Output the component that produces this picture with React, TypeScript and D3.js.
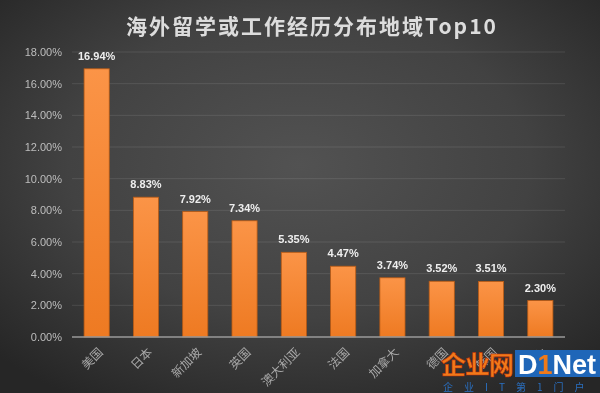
import React from "react";
import * as d3 from "d3";

const title = "海外留学或工作经历分布地域Top10";
const categories = ["美国", "日本", "新加坡", "英国", "澳大利亚", "法国", "加拿大", "德国", "韩国", "瑞士"];
const values = [16.94, 8.83, 7.92, 7.34, 5.35, 4.47, 3.74, 3.52, 3.51, 2.3];
const yTicks = [0, 2, 4, 6, 8, 10, 12, 14, 16, 18];

const W = 600;
const H = 393;
const M = { left: 72, right: 35, top: 52, bottom: 56 };

export default function App() {
  const x = d3
    .scaleBand<string>()
    .domain(categories)
    .range([M.left, W - M.right])
    .paddingInner(0.49)
    .paddingOuter(0.245);
  const y = d3.scaleLinear().domain([0, 18]).range([H - M.bottom, M.top]);
  const fmt = (v: number) => v.toFixed(2) + "%";
  const font = "'Liberation Sans', 'Noto Sans CJK SC', sans-serif";
  const cjk = "'Noto Sans CJK SC', 'Liberation Sans', sans-serif";

  return (
    <svg
      width={W}
      height={H}
      style={{ position: "fixed", left: 0, top: 0, display: "block" }}
    >
      <defs>
        <radialGradient id="bg" cx="50%" cy="42%" r="70%">
          <stop offset="0%" stopColor="#525252" />
          <stop offset="55%" stopColor="#424242" />
          <stop offset="100%" stopColor="#262626" />
        </radialGradient>
        <linearGradient id="bar" x1="0" y1="0" x2="0" y2="1">
          <stop offset="0%" stopColor="#fb9447" />
          <stop offset="100%" stopColor="#ee7a22" />
        </linearGradient>
      </defs>
      <rect x={0} y={0} width={W} height={H} fill="url(#bg)" />

      <text
        x={312}
        y={34}
        textAnchor="middle"
        fill="#dcdcdc"
        fontFamily={cjk}
        fontWeight="bold"
        fontSize={21}
        letterSpacing={2}
      >
        {title}
      </text>

      {yTicks.map((t) => (
        <g key={t}>
          {t > 0 && (
            <line
              x1={M.left}
              x2={W - M.right}
              y1={y(t)}
              y2={y(t)}
              stroke="#ffffff"
              strokeOpacity={0.1}
              strokeWidth={1}
            />
          )}
          <text
            x={62}
            y={y(t)}
            dy="0.35em"
            textAnchor="end"
            fill="#bdbdbd"
            fontFamily={font}
            fontSize={11}
          >
            {fmt(t)}
          </text>
        </g>
      ))}

      {categories.map((c, i) => (
        <g key={c}>
          <rect
            x={x(c)!}
            y={y(values[i])}
            width={x.bandwidth()}
            height={y(0) - y(values[i])}
            fill="url(#bar)"
            stroke="#b85a14"
            strokeWidth={0.8}
          />
          <text
            x={x(c)! + x.bandwidth() / 2}
            y={y(values[i]) - 9}
            textAnchor="middle"
            fill="#eeeeee"
            fontFamily={font}
            fontWeight="bold"
            fontSize={11}
          >
            {fmt(values[i])}
          </text>
          <text
            transform={`translate(${x(c)! + x.bandwidth() / 2 + 4},${y(0) + 13}) rotate(-45)`}
            textAnchor="end"
            dy="0.35em"
            fill="#a8a8a8"
            fontFamily={cjk}
            fontSize={12}
          >
            {c}
          </text>
        </g>
      ))}

      <line
        x1={M.left}
        x2={W - M.right}
        y1={y(0)}
        y2={y(0)}
        stroke="#9a9a9a"
        strokeWidth={1.5}
      />

      {/* watermark */}
      <g>
        <text
          x={441}
          y={374}
          fill="#f07a1a"
          stroke="#c0300a"
          strokeWidth={0.6}
          fontFamily={cjk}
          fontWeight="bold"
          fontSize={25}
          letterSpacing={-1}
        >
          企业网
        </text>
        <rect x={515} y={350} width={85} height={27} fill="#1f66b8" />
        <text
          x={518}
          y={374}
          fill="#ffffff"
          fontFamily={font}
          fontWeight="bold"
          fontSize={27}
        >
          D<tspan fill="#f07a1a">1</tspan>Net
        </text>
        <text
          x={443}
          y={391}
          fill="#2a6fc0"
          fontFamily={cjk}
          fontSize={10}
          letterSpacing={11}
        >
          企业IT第1门户
        </text>
      </g>
    </svg>
  );
}
